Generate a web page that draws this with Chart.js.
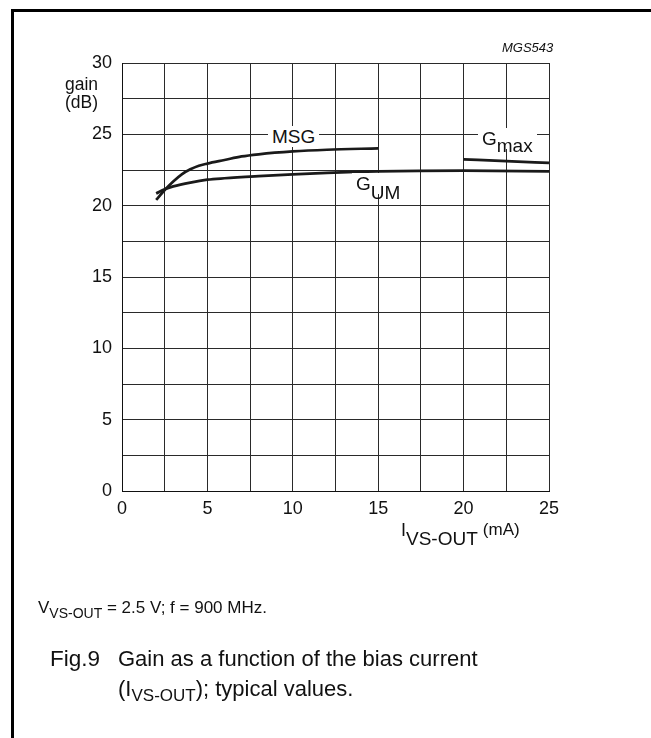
<!DOCTYPE html>
<html>
<head>
<meta charset="utf-8">
<script src="https://cdn.jsdelivr.net/npm/chart.js@4/dist/chart.umd.min.js"></script>
<style>
  html, body { margin: 0; padding: 0; background: #fff; }
  body { width: 651px; height: 738px; position: relative; overflow: hidden;
         font-family: "Liberation Sans", Arial, Helvetica, sans-serif; color: #111; }
  #wrap { position: absolute; left: 0; top: 0; width: 651px; height: 738px; }
  .frameL { position: absolute; left: 11px; top: 9px; width: 2.5px; height: 729px; background: #000; }
  .frameT { position: absolute; left: 11px; top: 9px; width: 640px; height: 2.5px; background: #000; }
  .t { position: absolute; white-space: nowrap; line-height: 1; }
  .lbl { background: #fff; padding: 1px 4px; font-size: 19px; }
  sub.s { font-size: 1em; vertical-align: -0.45em; line-height: 0; }
</style>
</head>
<body>
<div id="wrap"><canvas id="c" width="651" height="738"></canvas></div>
<div class="frameL"></div>
<div class="frameT"></div>

<div class="t" style="left:502px; top:41px; font-size:13px; font-style:italic;">MGS543</div>
<div class="t" style="left:65px; top:75px; font-size:17.5px; line-height:18px;">gain<br>(dB)</div>

<div class="t lbl" style="left:268px; top:126px;">MSG</div>
<div class="t lbl" style="left:352px; top:173px;">G<sub class="s">UM</sub></div>
<div class="t lbl" style="left:478px; top:128px;">G<sub class="s" style="vertical-align:-0.38em;">max</sub></div>

<div class="t" style="left:401px; top:521px; font-size:18px;">I<sub class="s" style="font-size:19px; vertical-align:-0.45em;">VS-OUT</sub> <span style="font-size:17px; position:relative; top:-1px;">(mA)</span></div>

<div class="t" style="left:38px; top:599px; font-size:17px;">V<sub style="font-size:14px; vertical-align:-0.35em; line-height:0;">VS-OUT</sub> = 2.5 V; f = 900 MHz.</div>

<div class="t" style="left:50px; top:648px; font-size:22.5px;">Fig.9</div>
<div class="t" style="left:118px; top:648px; font-size:22px;">Gain as a function of the bias current</div>
<div class="t" style="left:118px; top:678px; font-size:22px;">(I<sub style="font-size:17px; vertical-align:-0.3em; line-height:0;">VS-OUT</sub>); typical values.</div>

<script>
// ---- data ----
const msgX  = [2, 2.5, 3, 3.5, 4, 4.5, 5, 6, 7, 8, 10, 12, 15];
const msgY  = [20.4, 21.1, 21.7, 22.2, 22.55, 22.8, 22.95, 23.2, 23.45, 23.6, 23.8, 23.92, 24.02];
const gumX  = [2, 2.5, 3, 4, 5, 6, 8, 10, 12, 15, 20, 25];
const gumY  = [20.85, 21.15, 21.35, 21.62, 21.82, 21.92, 22.07, 22.2, 22.3, 22.4, 22.45, 22.4];
const gmaxX = [20, 22.5, 25];
const gmaxY = [23.25, 23.12, 23.0];
const xTicks = [0, 5, 10, 15, 20, 25];
const yTicks = [0, 5, 10, 15, 20, 25, 30];

const pts = (xs, ys) => xs.map((x, i) => ({ x: x, y: ys[i] }));
const lineStyle = { borderColor: '#1a1a1a', borderWidth: 2.7, pointRadius: 0, fill: false,
                    cubicInterpolationMode: 'monotone' };

new Chart(document.getElementById('c'), {
  type: 'line',
  data: {
    datasets: [
      Object.assign({ label: 'MSG', data: pts(msgX, msgY) }, lineStyle),
      Object.assign({ label: 'GUM', data: pts(gumX, gumY) }, lineStyle),
      Object.assign({ label: 'Gmax', data: pts(gmaxX, gmaxY) }, lineStyle)
    ]
  },
  options: {
    responsive: false,
    animation: false,
    devicePixelRatio: 1,
    layout: { padding: { left: 0, top: 63, right: 102, bottom: 207 } },
    plugins: { legend: { display: false }, tooltip: { enabled: false } },
    scales: {
      x: {
        type: 'linear', min: 0, max: 25,
        afterFit: s => { s.height = 40; },
        border: { color: '#111', width: 1 },
        grid: { color: '#2a2a2a', lineWidth: 1, drawTicks: false },
        ticks: {
          stepSize: 2.5, padding: 7, color: '#111', maxRotation: 0, autoSkip: false,
          font: { family: '"Liberation Sans", Arial, sans-serif', size: 18 },
          callback: v => xTicks.includes(v) ? String(v) : ''
        }
      },
      y: {
        type: 'linear', min: 0, max: 30,
        afterFit: s => { s.width = 122; },
        border: { color: '#111', width: 1 },
        grid: { color: '#2a2a2a', lineWidth: 1, drawTicks: false },
        ticks: {
          stepSize: 2.5, padding: 10, color: '#111', autoSkip: false,
          font: { family: '"Liberation Sans", Arial, sans-serif', size: 18 },
          callback: v => yTicks.includes(v) ? String(v) : ''
        }
      }
    }
  }
});
</script>
</body>
</html>
